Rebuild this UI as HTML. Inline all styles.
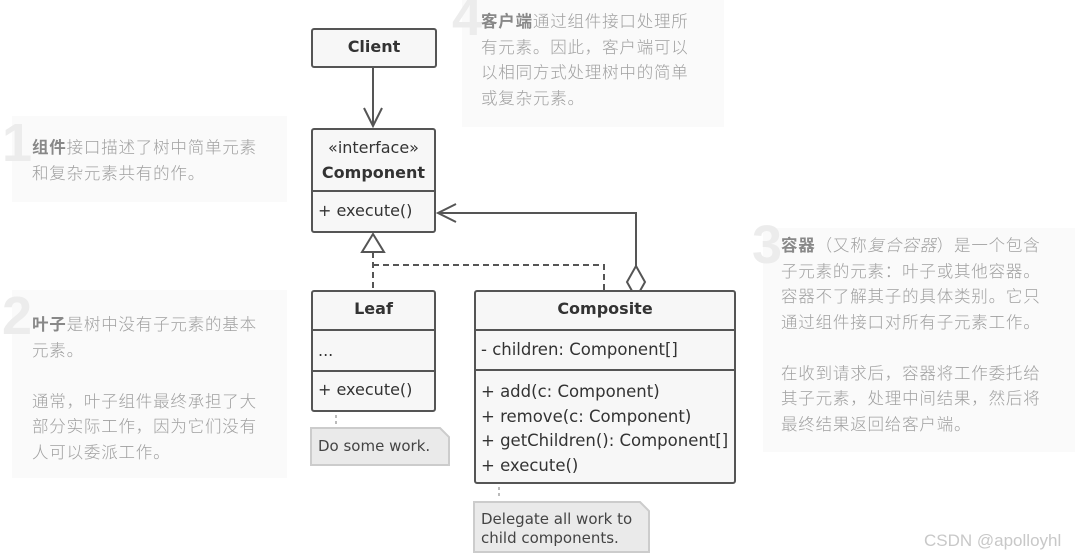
<!DOCTYPE html>
<html><head><meta charset="utf-8"><style>
body{margin:0;width:1083px;height:560px;background:#fff;position:relative;overflow:hidden;font-family:"Liberation Sans","Noto Sans CJK SC",sans-serif}
.n{position:absolute;background:#fafafa}
.t{position:absolute;color:#a0a0a0;font-size:16.5px;letter-spacing:0.8px;line-height:25.5px;white-space:nowrap;font-family:"Noto Sans CJK SC",sans-serif;font-weight:300}
.t b{color:#888;font-weight:bold}
.num{position:absolute;color:#ececec;font-size:54px;font-weight:bold;line-height:50px}
.box{position:absolute;border:2px solid #555;border-radius:3px;background:#f7f7f7;box-sizing:border-box}
.l{position:absolute;color:#333;white-space:nowrap;font-family:"DejaVu Sans","Liberation Sans",sans-serif;font-size:16px}
.hd{position:absolute;border-top:2px solid #555}
</style></head><body>
<div class="n" style="left:12px;top:116px;width:275px;height:86px"></div>
<div class="n" style="left:12px;top:290px;width:275px;height:188px"></div>
<div class="n" style="left:462px;top:0;width:262px;height:127px"></div>
<div class="n" style="left:763px;top:228px;width:312px;height:224px"></div>
<div class="num" style="left:2px;top:118px">1</div>
<div class="num" style="left:2px;top:291px">2</div>
<div class="num" style="left:452px;top:-8px">4</div>
<div class="num" style="left:752px;top:220px">3</div>
<div class="t" style="left:32px;top:134px"><b>组件</b>接口描述了树中简单元素<br>和复杂元素共有的作。</div>
<div class="t" style="left:32px;top:311px"><b>叶子</b>是树中没有子元素的基本<br>元素。<br><br>通常，叶子组件最终承担了大<br>部分实际工作，因为它们没有<br>人可以委派工作。</div>
<div class="t" style="left:481px;top:8px"><b>客户端</b>通过组件接口处理所<br>有元素。因此，客户端可以<br>以相同方式处理树中的简单<br>或复杂元素。</div>
<div class="t" style="left:781px;top:232px"><b>容器</b>（又称<i>复合容器</i>）是一个包含<br>子元素的元素：叶子或其他容器。<br>容器不了解其子的具体类别。它只<br>通过组件接口对所有子元素工作。<br><br>在收到请求后，容器将工作委托给<br>其子元素，处理中间结果，然后将<br>最终结果返回给客户端。</div>
<div style="position:absolute;left:924px;top:531px;color:#c8c8c8;font-size:17px">CSDN @apolloyhl</div>

<svg width="1083" height="560" style="position:absolute;left:0;top:0">
<g stroke="#555" stroke-width="2" fill="none">
<line x1="373" y1="67" x2="373" y2="126"/>
<polyline points="364,108 373,126 382,108"/>
<polyline points="636,266 636,213 438,213"/>
<polyline points="456,204 438,213 456,222"/>
<polygon points="636,266 645,282 636,298 627,282" fill="#fff"/>
<polygon points="373,234 384,252 362,252" fill="#fff"/>
<polyline points="373,252 373,290" stroke-dasharray="6,4"/>
<polyline points="373,265 604,265 604,290" stroke-dasharray="6,4"/>
</g>
<g stroke="#bbb" stroke-width="2" stroke-dasharray="3,3"><line x1="336" y1="415" x2="336" y2="425"/><line x1="499" y1="487" x2="499" y2="499"/></g>
<g fill="#eaeaea" stroke="#ccc" stroke-width="2">
<polygon points="311,428 440,428 449,437 449,465 311,465"/>
<polygon points="474,502 640,502 649,511 649,552 474,552"/>
</g>
</svg>
<div class="l" style="left:318px;top:437px;font-size:15px;color:#444">Do some work.</div>
<div class="l" style="left:481px;top:510px;font-size:15px;color:#444;line-height:19px">Delegate all work to<br>child components.</div>

<div class="box" style="left:311px;top:28px;width:126px;height:40px"></div>
<div class="l" style="left:311px;width:126px;text-align:center;top:37px;font-weight:bold">Client</div>

<div class="box" style="left:311px;top:128px;width:125px;height:105px"></div>
<div class="hd" style="left:311px;top:190px;width:125px"></div>
<div class="l" style="left:311px;width:125px;text-align:center;top:138px">«interface»</div>
<div class="l" style="left:311px;width:125px;text-align:center;top:163px;font-weight:bold">Component</div>
<div class="l" style="left:318px;top:201px">+ execute()</div>

<div class="box" style="left:311px;top:290px;width:125px;height:122px"></div>
<div class="hd" style="left:311px;top:329px;width:125px"></div>
<div class="hd" style="left:311px;top:370px;width:125px"></div>
<div class="l" style="left:311px;width:125px;text-align:center;top:299px;font-weight:bold">Leaf</div>
<div class="l" style="left:318px;top:341px">...</div>
<div class="l" style="left:318px;top:380px">+ execute()</div>

<div class="box" style="left:474px;top:290px;width:262px;height:194px"></div>
<div class="hd" style="left:474px;top:329px;width:262px"></div>
<div class="hd" style="left:474px;top:369px;width:262px"></div>
<div class="l" style="left:474px;width:262px;text-align:center;top:299px;font-weight:bold">Composite</div>
<div class="l" style="left:481px;top:340px;font-size:16.5px">- children: Component[]</div>
<div class="l" style="left:481px;top:380px;line-height:24.5px;font-size:16.5px">+ add(c: Component)<br>+ remove(c: Component)<br>+ getChildren(): Component[]<br>+ execute()</div>
</body></html>
